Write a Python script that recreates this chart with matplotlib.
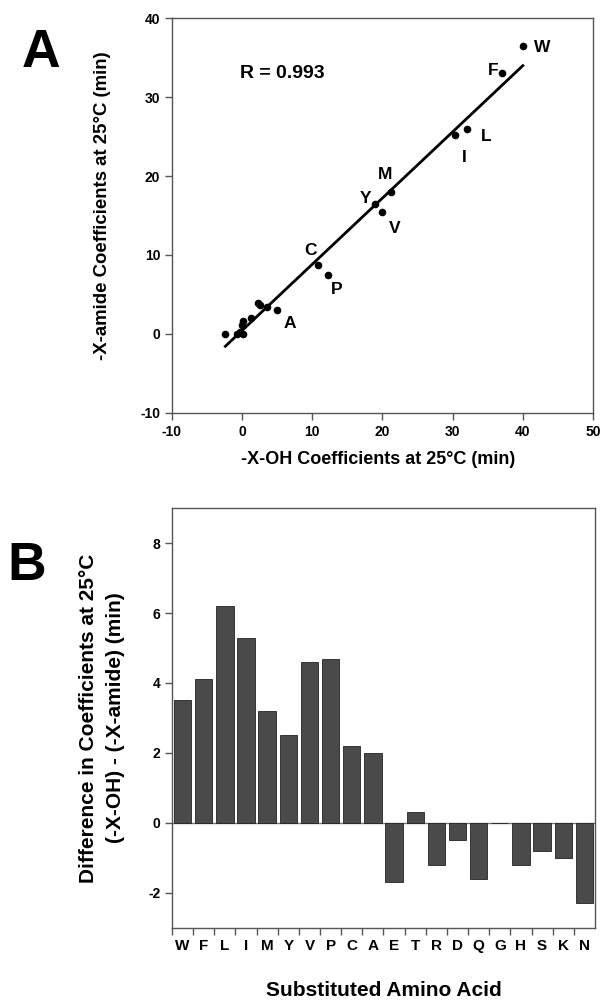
import numpy as np
import matplotlib
matplotlib.use("Agg")
import matplotlib.pyplot as plt

plt.rcParams['font.family'] = ['Liberation Sans', 'DejaVu Sans']
plt.rcParams['axes.unicode_minus'] = False

# Panel A: -X-OH vs -X-amide coefficients
oh_coef = [40.0, 37.0, 32.1, 30.3, 21.2, 18.9, 20.0, 10.8, 12.2, 5.0,
           3.6, 2.2, 2.5, 1.3, 0.1, 0.0, -0.8, 0.1, -2.4, -0.3]
amide_coef = [36.5, 33.0, 26.0, 25.2, 18.0, 16.5, 15.4, 8.7, 7.5, 3.0,
              3.4, 3.9, 3.7, 2.0, 1.7, 1.2, 0.0, 0.0, 0.0, 0.3]
point_labels = ["W", "F", "L", "I", "M", "Y", "V", "C", "P", "A"]
label_pos = [(42.8, 36.3), (35.8, 33.4), (34.8, 25.0), (31.6, 22.3), (20.4, 20.2),
             (17.6, 17.1), (21.8, 13.4), (9.8, 10.6), (13.5, 5.6), (6.8, 1.3)]
fit_slope = 0.838
fit_intercept = 0.45
r_value = 0.993

# Panel B: difference (-X-OH) - (-X-amide)
amino_acids = ["W", "F", "L", "I", "M", "Y", "V", "P", "C", "A",
               "E", "T", "R", "D", "Q", "G", "H", "S", "K", "N"]
differences = [3.5, 4.1, 6.2, 5.3, 3.2, 2.5, 4.6, 4.7, 2.2, 2.0,
               -1.7, 0.3, -1.2, -0.5, -1.6, 0.0, -1.2, -0.8, -1.0, -2.3]

fig = plt.figure(figsize=(6.09, 10.07), dpi=100)
spine_col = "#555555"

# ---- Panel A ----
ax1 = fig.add_axes([0.2824, 0.5899, 0.6913, 0.3922])
ax1.scatter(oh_coef, amide_coef, s=20, color="black", zorder=3)
xs = np.array([min(oh_coef), max(oh_coef)])
ax1.plot(xs, fit_slope * xs + fit_intercept, color="black", lw=2)
for lab, (lx, ly) in zip(point_labels, label_pos):
    ax1.text(lx, ly, lab, fontsize=12.5, fontweight="bold", ha="center", va="center")
ax1.text(-0.3, 33, f"R = {r_value}", fontsize=14, fontweight="bold", ha="left", va="center")
ax1.set_xlim(-10, 50)
ax1.set_ylim(-10, 40)
ax1.set_xticks(range(-10, 51, 10))
ax1.set_yticks(range(-10, 41, 10))
ax1.set_xlabel("-X-OH Coefficients at 25°C (min)", fontsize=13, fontweight="bold", va="center")
ax1.xaxis.set_label_coords(0.49, -0.119)
ax1.set_ylabel("-X-amide Coefficients at 25°C (min)", fontsize=13.4, fontweight="bold", va="center")
ax1.yaxis.set_label_coords(-0.166, 0.524)
fig.text(0.0673, 0.9335, "A", fontsize=38.5, fontweight="bold", ha="center", va="baseline")

# ---- Panel B ----
ax2 = fig.add_axes([0.2824, 0.0785, 0.6946, 0.417])
pos = np.arange(len(amino_acids))
ax2.bar(pos, differences, width=0.82, color="#4a4a4a", edgecolor="#222222", lw=0.6, zorder=2)
ax2.axhline(0, color="#777777", lw=1, zorder=1)
ax2.set_xlim(-0.5, len(amino_acids) - 0.5)
ax2.set_ylim(-3, 9)
ax2.set_yticks(range(-2, 9, 2))
ax2.set_xticks(pos - 0.5, minor=False)
ax2.set_xticklabels([])
ax2.set_xticks(pos, minor=True)
ax2.set_xticklabels(amino_acids, minor=True)
ax2.tick_params(axis="x", which="minor", length=0, pad=8)
ax2.set_xlabel("Substituted Amino Acid", fontsize=15, fontweight="bold", va="center")
ax2.xaxis.set_label_coords(0.5, -0.148)
ax2.set_ylabel("Difference in Coefficients at 25°C\n(-X-OH) - (-X-amide) (min)",
               fontsize=15, fontweight="bold", linespacing=1.5, va="center")
ax2.yaxis.set_label_coords(-0.165, 0.5)
fig.text(0.0443, 0.424, "B", fontsize=38.5, fontweight="bold", ha="center", va="baseline")

for ax in (ax1, ax2):
    for sp in ax.spines.values():
        sp.set_color(spine_col)
        sp.set_linewidth(1.0)
    ax.tick_params(which="major", length=5, width=1, color=spine_col, labelsize=10)
    ax.tick_params(which="minor", labelsize=11)
    for t in ax.get_xticklabels(which="both") + ax.get_yticklabels():
        t.set_fontweight("bold")

fig.savefig("out.png", dpi=100)
